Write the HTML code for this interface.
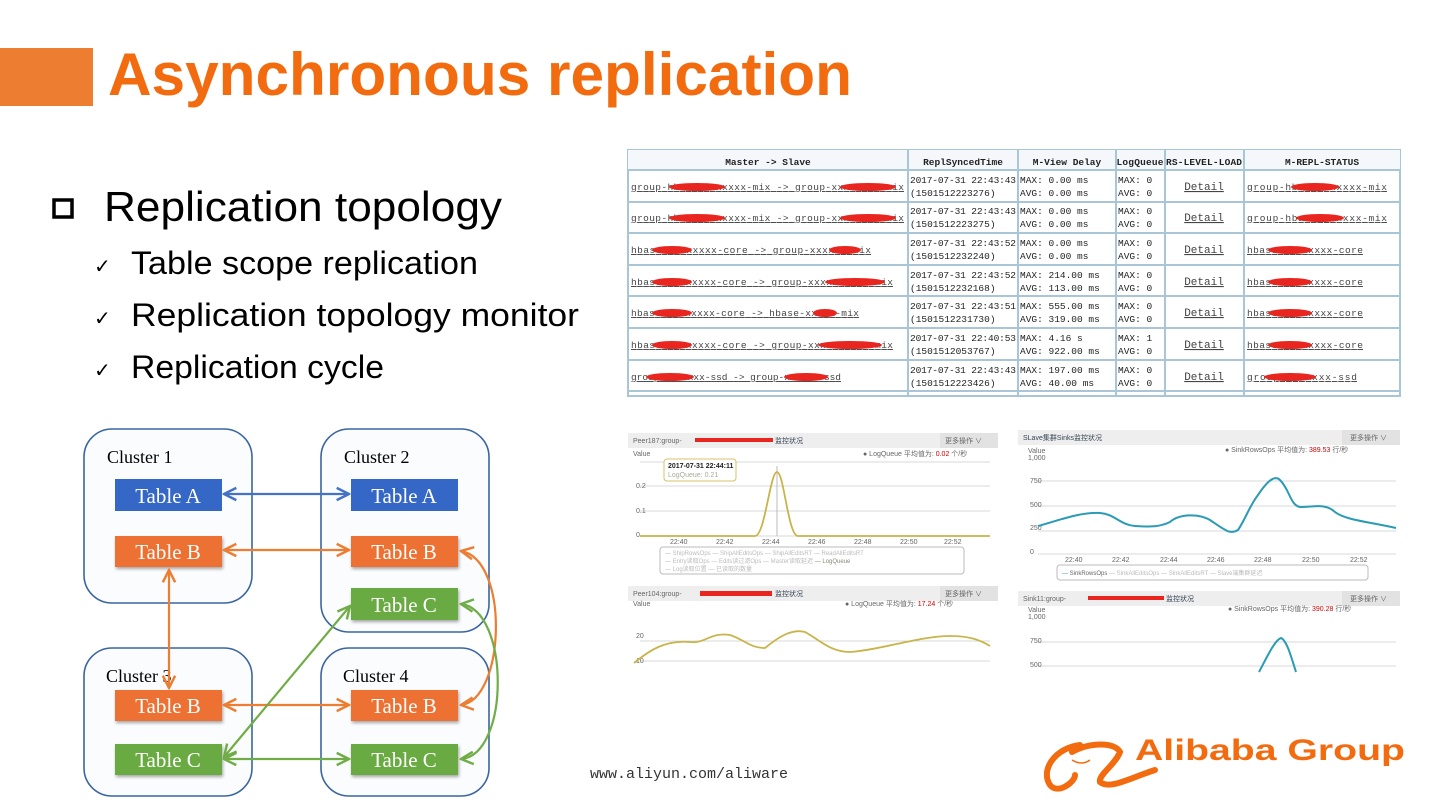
<!DOCTYPE html>
<html><head><meta charset="utf-8"><style>
html,body{margin:0;padding:0;background:#fff;width:1440px;height:810px;overflow:hidden}
svg{display:block}
</style></head><body>
<svg width="1440" height="810" viewBox="0 0 1440 810" xmlns="http://www.w3.org/2000/svg" font-family="Liberation Sans, sans-serif">
<defs>
<marker id="ab" viewBox="0 0 10 10" refX="9" refY="5" markerWidth="7" markerHeight="7" orient="auto-start-reverse"><path d="M1 1 L9 5 L1 9" fill="none" stroke="#4472c4" stroke-width="1.6"/></marker>
<marker id="ao" viewBox="0 0 10 10" refX="9" refY="5" markerWidth="7" markerHeight="7" orient="auto-start-reverse"><path d="M1 1 L9 5 L1 9" fill="none" stroke="#ed7d31" stroke-width="1.6"/></marker>
<marker id="ag" viewBox="0 0 10 10" refX="9" refY="5" markerWidth="7" markerHeight="7" orient="auto-start-reverse"><path d="M1 1 L9 5 L1 9" fill="none" stroke="#70ad47" stroke-width="1.6"/></marker>
<filter id="sh" x="-10%" y="-20%" width="130%" height="160%"><feDropShadow dx="1" dy="2" stdDeviation="1.5" flood-color="#000" flood-opacity="0.35"/></filter>
</defs>
<!-- title -->
<rect x="0" y="48" width="93" height="58" fill="#ed7d31"/>
<text x="108" y="95" font-size="60" font-weight="bold" fill="#f26b0f" textLength="744" lengthAdjust="spacingAndGlyphs">Asynchronous replication</text>
<!-- bullets -->
<rect x="54" y="200" width="18" height="17" fill="none" stroke="#000" stroke-width="3.5"/>
<text x="104" y="221" font-size="42" fill="#000" textLength="398" lengthAdjust="spacingAndGlyphs">Replication topology</text>
<g font-size="32" fill="#000">
<text x="94" y="273" font-size="20">✓</text><text x="131" y="274" textLength="347" lengthAdjust="spacingAndGlyphs">Table scope replication</text>
<text x="94" y="325" font-size="20">✓</text><text x="131" y="326" textLength="448" lengthAdjust="spacingAndGlyphs">Replication topology monitor</text>
<text x="94" y="377" font-size="20">✓</text><text x="131" y="378" textLength="253" lengthAdjust="spacingAndGlyphs">Replication cycle</text>
</g>
<!-- diagram clusters -->
<g fill="#fbfcfe" stroke="#3a65a0" stroke-width="1.6">
<rect x="84" y="429" width="168" height="174" rx="28"/>
<rect x="321" y="429" width="168" height="203" rx="28"/>
<rect x="84" y="648" width="168" height="148" rx="28"/>
<rect x="321" y="648" width="168" height="148" rx="28"/>
</g>
<g font-family="Liberation Serif, serif" font-size="18" fill="#000">
<text x="107" y="463">Cluster 1</text><text x="344" y="463">Cluster 2</text>
<text x="106" y="682">Cluster 3</text><text x="343" y="682">Cluster 4</text>
</g>
<g font-family="Liberation Serif, serif" font-size="21" fill="#fff" text-anchor="middle">
<rect x="115" y="479" width="107" height="32" fill="#3567c6"/><text x="168" y="503">Table A</text>
<rect x="351" y="479" width="107" height="32" fill="#3567c6"/><text x="404" y="503">Table A</text>
<rect x="115" y="536" width="107" height="31" fill="#ed7130" filter="url(#sh)"/><text x="168" y="559">Table B</text>
<rect x="351" y="536" width="107" height="31" fill="#ed7130" filter="url(#sh)"/><text x="404" y="559">Table B</text>
<rect x="351" y="588" width="107" height="32" fill="#6aaa42" filter="url(#sh)"/><text x="404" y="612">Table C</text>
<rect x="115" y="690" width="107" height="31" fill="#ed7130" filter="url(#sh)"/><text x="168" y="713">Table B</text>
<rect x="351" y="690" width="107" height="31" fill="#ed7130" filter="url(#sh)"/><text x="404" y="713">Table B</text>
<rect x="115" y="744" width="107" height="31" fill="#6aaa42" filter="url(#sh)"/><text x="168" y="767">Table C</text>
<rect x="351" y="744" width="107" height="31" fill="#6aaa42" filter="url(#sh)"/><text x="404" y="767">Table C</text>
</g>
<g fill="none" stroke-width="2.2">
<line x1="224" y1="494" x2="349" y2="494" stroke="#4472c4" marker-start="url(#ab)" marker-end="url(#ab)"/>
<line x1="224" y1="550" x2="349" y2="550" stroke="#ed7d31" marker-start="url(#ao)" marker-end="url(#ao)"/>
<line x1="169" y1="570" x2="169" y2="688" stroke="#ed7d31" marker-start="url(#ao)" marker-end="url(#ao)"/>
<line x1="224" y1="705" x2="349" y2="705" stroke="#ed7d31" marker-start="url(#ao)" marker-end="url(#ao)"/>
<line x1="224" y1="759" x2="349" y2="759" stroke="#70ad47" marker-start="url(#ag)" marker-end="url(#ag)"/>
<line x1="224" y1="757" x2="350" y2="606" stroke="#70ad47" marker-start="url(#ag)" marker-end="url(#ag)"/>
<path d="M461 551 C510 560 505 700 461 705" stroke="#ed7d31" marker-start="url(#ao)" marker-end="url(#ao)"/>
<path d="M461 604 C510 610 510 755 461 759" stroke="#70ad47" marker-start="url(#ag)" marker-end="url(#ag)"/>
</g>
<!-- table screenshot -->
<g font-family="Liberation Mono, monospace" font-size="9.5" fill="#222">
<rect x="628" y="150" width="772" height="246" fill="#fff" stroke="#a9c6d6" stroke-width="2"/>
<rect x="628" y="150" width="772" height="20" fill="#f4f8fa"/>
<g stroke="#a9c6d6" stroke-width="2">
<line x1="628" y1="170" x2="1400" y2="170"/><line x1="628" y1="202" x2="1400" y2="202"/><line x1="628" y1="233" x2="1400" y2="233"/><line x1="628" y1="265" x2="1400" y2="265"/><line x1="628" y1="296" x2="1400" y2="296"/><line x1="628" y1="328" x2="1400" y2="328"/><line x1="628" y1="360" x2="1400" y2="360"/><line x1="628" y1="391" x2="1400" y2="391"/>
<line x1="908" y1="150" x2="908" y2="396"/><line x1="1018" y1="150" x2="1018" y2="396"/><line x1="1116" y1="150" x2="1116" y2="396"/><line x1="1165" y1="150" x2="1165" y2="396"/><line x1="1244" y1="150" x2="1244" y2="396"/>
</g>
<g font-weight="bold" text-anchor="middle"><text x="768" y="165">Master -&gt; Slave</text><text x="963" y="165">ReplSyncedTime</text><text x="1067" y="165">M-View Delay</text><text x="1140" y="165" textLength="47">LogQueue</text><text x="1204" y="165" textLength="76">RS-LEVEL-LOAD</text><text x="1322" y="165">M-REPL-STATUS</text></g>
<g fill="#444" text-decoration="underline">
<text x="631" y="190" textLength="273">group-hbase-xxxxxxx-mix -&gt; group-xxxxxxxx-mix</text>
<text x="631" y="221" textLength="273">group-hbase-xxxxxxx-mix -&gt; group-xxxxxxxx-mix</text>
<text x="631" y="253" textLength="240">hbase-xxxxxxxx-core -&gt; group-xxxxxx-mix</text>
<text x="631" y="285" textLength="262">hbase-xxxxxxxx-core -&gt; group-xxxxxxxxxx-mix</text>
<text x="631" y="316" textLength="228">hbase-xxxxxxxx-core -&gt; hbase-xxxxx-mix</text>
<text x="631" y="348" textLength="262">hbase-xxxxxxxx-core -&gt; group-xxxxxxxxxx-mix</text>
<text x="631" y="380" textLength="210">group-xxxxxxx-ssd -&gt; group-xxxxxx-ssd</text>
<text x="1247" y="190" textLength="140">group-hbase-xxxxxx-mix</text>
<text x="1247" y="221" textLength="140">group-hbase-xxxxxx-mix</text>
<text x="1247" y="253" textLength="116">hbase-xxxxxxxx-core</text>
<text x="1247" y="285" textLength="116">hbase-xxxxxxxx-core</text>
<text x="1247" y="316" textLength="116">hbase-xxxxxxxx-core</text>
<text x="1247" y="348" textLength="116">hbase-xxxxxxxx-core</text>
<text x="1247" y="380" textLength="110">group-xxxxxxx-ssd</text>
</g>
<g fill="#e8251e">
<ellipse cx="697" cy="187" rx="28" ry="4"/><ellipse cx="868" cy="187" rx="28" ry="4"/>
<ellipse cx="697" cy="218" rx="28" ry="4"/><ellipse cx="868" cy="218" rx="28" ry="4"/>
<ellipse cx="672" cy="250" rx="20" ry="4"/><ellipse cx="845" cy="250" rx="16" ry="4"/>
<ellipse cx="672" cy="282" rx="20" ry="4"/><ellipse cx="855" cy="282" rx="30" ry="4"/>
<ellipse cx="672" cy="313" rx="20" ry="4"/><ellipse cx="825" cy="313" rx="12" ry="4"/>
<ellipse cx="672" cy="345" rx="20" ry="4"/><ellipse cx="850" cy="345" rx="32" ry="4"/>
<ellipse cx="670" cy="377" rx="24" ry="4"/><ellipse cx="806" cy="377" rx="22" ry="4"/>
<ellipse cx="1315" cy="187" rx="24" ry="4"/><ellipse cx="1320" cy="218" rx="24" ry="4"/>
<ellipse cx="1290" cy="250" rx="22" ry="4"/><ellipse cx="1290" cy="282" rx="22" ry="4"/>
<ellipse cx="1290" cy="313" rx="22" ry="4"/><ellipse cx="1290" cy="345" rx="22" ry="4"/><ellipse cx="1290" cy="377" rx="26" ry="4"/>
</g>
<g>
<text x="910" y="183" textLength="106">2017-07-31 22:43:43</text><text x="910" y="196">(1501512223276)</text>
<text x="910" y="214" textLength="106">2017-07-31 22:43:43</text><text x="910" y="227">(1501512223275)</text>
<text x="910" y="246" textLength="106">2017-07-31 22:43:52</text><text x="910" y="259">(1501512232240)</text>
<text x="910" y="278" textLength="106">2017-07-31 22:43:52</text><text x="910" y="291">(1501512232168)</text>
<text x="910" y="309" textLength="106">2017-07-31 22:43:51</text><text x="910" y="322">(1501512231730)</text>
<text x="910" y="341" textLength="106">2017-07-31 22:40:53</text><text x="910" y="354">(1501512053767)</text>
<text x="910" y="373" textLength="106">2017-07-31 22:43:43</text><text x="910" y="386">(1501512223426)</text>
<text x="1020" y="183">MAX: 0.00 ms</text><text x="1020" y="196">AVG: 0.00 ms</text>
<text x="1020" y="214">MAX: 0.00 ms</text><text x="1020" y="227">AVG: 0.00 ms</text>
<text x="1020" y="246">MAX: 0.00 ms</text><text x="1020" y="259">AVG: 0.00 ms</text>
<text x="1020" y="278">MAX: 214.00 ms</text><text x="1020" y="291">AVG: 113.00 ms</text>
<text x="1020" y="309">MAX: 555.00 ms</text><text x="1020" y="322">AVG: 319.00 ms</text>
<text x="1020" y="341">MAX: 4.16 s</text><text x="1020" y="354">AVG: 922.00 ms</text>
<text x="1020" y="373">MAX: 197.00 ms</text><text x="1020" y="386">AVG: 40.00 ms</text>
<text x="1118" y="183">MAX: 0</text><text x="1118" y="196">AVG: 0</text>
<text x="1118" y="214">MAX: 0</text><text x="1118" y="227">AVG: 0</text>
<text x="1118" y="246">MAX: 0</text><text x="1118" y="259">AVG: 0</text>
<text x="1118" y="278">MAX: 0</text><text x="1118" y="291">AVG: 0</text>
<text x="1118" y="309">MAX: 0</text><text x="1118" y="322">AVG: 0</text>
<text x="1118" y="341">MAX: 1</text><text x="1118" y="354">AVG: 0</text>
<text x="1118" y="373">MAX: 0</text><text x="1118" y="386">AVG: 0</text>
</g>
<g fill="#444" text-decoration="underline" font-size="11" text-anchor="middle">
<text x="1204" y="190">Detail</text><text x="1204" y="221">Detail</text><text x="1204" y="253">Detail</text><text x="1204" y="285">Detail</text><text x="1204" y="316">Detail</text><text x="1204" y="348">Detail</text><text x="1204" y="380">Detail</text>
</g>
</g>
<!-- chart panels -->
<g font-size="7" fill="#666">
<!-- left top -->
<rect x="628" y="433" width="370" height="15" fill="#eeeeee"/><rect x="940" y="433" width="58" height="15" fill="#e2e2e2"/>
<text x="633" y="443">Peer187:group-</text><rect x="695" y="438" width="78" height="4" fill="#e8251e"/><text x="775" y="443" fill="#345">监控状况</text><text x="945" y="443">更多操作 ∨</text>
<text x="633" y="456">Value</text><text x="863" y="456">● LogQueue 平均值为: <tspan fill="#c00">0.02</tspan> 个/秒</text>
<g stroke="#ccc" stroke-width="0.8"><line x1="640" y1="462" x2="990" y2="462"/><line x1="640" y1="486" x2="990" y2="486"/><line x1="640" y1="511" x2="990" y2="511"/><line x1="640" y1="536" x2="990" y2="536"/></g>
<text x="636" y="488">0.2</text><text x="636" y="513">0.1</text><text x="636" y="537">0</text>
<text x="670" y="544">22:40</text><text x="716" y="544">22:42</text><text x="762" y="544">22:44</text><text x="808" y="544">22:46</text><text x="854" y="544">22:48</text><text x="900" y="544">22:50</text><text x="944" y="544">22:52</text>
<line x1="777" y1="466" x2="777" y2="536" stroke="#aaa" stroke-width="0.8"/>
<path d="M755 536 C765 536 770 472 777 472 C784 472 788 536 798 536 L990 536 M640 536 L755 536" fill="none" stroke="#c8b44a" stroke-width="1.8"/>
<rect x="664" y="459" width="72" height="22" rx="3" fill="#fff" stroke="#d8c06a"/><text x="668" y="468" fill="#222" font-weight="bold">2017-07-31 22:44:11</text><text x="668" y="477" fill="#aa9">LogQueue: 0.21</text>
<rect x="660" y="547" width="304" height="27" rx="3" fill="#fff" stroke="#bbb"/>
<text x="665" y="555" fill="#bbb" font-size="6">— ShipRowsOps — ShipAllEditsOps — ShipAllEditsRT — ReadAllEditsRT</text>
<text x="665" y="563" fill="#bbb" font-size="6">— Entry读取Ops — Edits读过滤Ops — Master读取延迟 <tspan fill="#887">— LogQueue</tspan></text>
<text x="665" y="571" fill="#bbb" font-size="6">— Log读取位置 — 已读取的数量</text>
<!-- left bottom -->
<rect x="628" y="586" width="370" height="15" fill="#eeeeee"/><rect x="940" y="586" width="58" height="15" fill="#e2e2e2"/>
<text x="633" y="596">Peer104:group-</text><rect x="700" y="591" width="72" height="5" fill="#e8251e"/><text x="775" y="596" fill="#345">监控状况</text><text x="945" y="596">更多操作 ∨</text>
<text x="633" y="606">Value</text><text x="845" y="606">● LogQueue 平均值为: <tspan fill="#c00">17.24</tspan> 个/秒</text>
<g stroke="#ccc" stroke-width="0.8"><line x1="640" y1="641" x2="990" y2="641"/><line x1="640" y1="661" x2="990" y2="661"/></g>
<text x="636" y="638">20</text><text x="636" y="663">10</text>
<path d="M634 663 C650 650 665 640 690 642 C705 644 710 632 730 635 C745 640 750 648 765 648 C775 640 790 628 805 632 C820 640 830 652 850 652 C880 650 920 636 950 636 C970 636 980 640 990 646" fill="none" stroke="#c8b44a" stroke-width="1.8"/>
<!-- right top -->
<rect x="1018" y="430" width="382" height="15" fill="#eeeeee"/><rect x="1342" y="430" width="58" height="15" fill="#e2e2e2"/>
<text x="1023" y="440" fill="#345">SLave集群Sinks监控状况</text><text x="1350" y="440">更多操作 ∨</text>
<text x="1028" y="453">Value</text><text x="1028" y="460">1,000</text>
<text x="1225" y="452">● SinkRowsOps 平均值为: <tspan fill="#c00">389.53</tspan> 行/秒</text>
<g stroke="#ccc" stroke-width="0.8"><line x1="1038" y1="481" x2="1396" y2="481"/><line x1="1038" y1="506" x2="1396" y2="506"/><line x1="1038" y1="531" x2="1396" y2="531"/><line x1="1038" y1="554" x2="1396" y2="554"/></g>
<text x="1030" y="483">750</text><text x="1030" y="507">500</text><text x="1030" y="530">250</text><text x="1030" y="554">0</text>
<text x="1065" y="562">22:40</text><text x="1112" y="562">22:42</text><text x="1160" y="562">22:44</text><text x="1207" y="562">22:46</text><text x="1254" y="562">22:48</text><text x="1302" y="562">22:50</text><text x="1350" y="562">22:52</text>
<path d="M1038 526 C1060 520 1080 512 1100 513 C1115 514 1120 525 1135 526 C1150 527 1160 527 1170 522 C1180 513 1200 514 1210 520 C1225 530 1230 535 1238 530 C1245 520 1250 505 1258 495 C1268 480 1275 475 1280 480 C1290 490 1290 505 1300 507 C1315 507 1325 503 1335 512 C1345 520 1370 522 1396 528" fill="none" stroke="#2a9bb5" stroke-width="2"/>
<rect x="1057" y="565" width="311" height="15" rx="3" fill="#fff" stroke="#bbb"/>
<text x="1062" y="575" font-size="6"><tspan fill="#2a9bb5">—</tspan> SinkRowsOps <tspan fill="#bbb">— SinkAllEditsOps — SinkAllEditsRT — Slave端集群延迟</tspan></text>
<!-- right bottom -->
<rect x="1018" y="591" width="382" height="15" fill="#eeeeee"/><rect x="1342" y="591" width="58" height="15" fill="#e2e2e2"/>
<text x="1023" y="601">Sink11:group-</text><rect x="1088" y="596" width="76" height="4" fill="#e8251e"/><text x="1166" y="601" fill="#345">监控状况</text><text x="1350" y="601">更多操作 ∨</text>
<text x="1028" y="612">Value</text><text x="1028" y="619">1,000</text>
<text x="1228" y="611">● SinkRowsOps 平均值为: <tspan fill="#c00">390.28</tspan> 行/秒</text>
<g stroke="#ccc" stroke-width="0.8"><line x1="1038" y1="642" x2="1396" y2="642"/><line x1="1038" y1="666" x2="1396" y2="666"/></g>
<text x="1030" y="643">750</text><text x="1030" y="667">500</text>
<path d="M1259 672 C1268 655 1275 640 1281 638 C1287 640 1292 660 1296 672" fill="none" stroke="#2a9bb5" stroke-width="2"/>
</g>
<!-- footer -->
<text x="590" y="778" font-family="Liberation Mono, monospace" font-size="15" fill="#333">www.aliyun.com/aliware</text>
<!-- logo -->
<path d="M1080 745 C1055 748 1040 770 1050 785 C1058 795 1075 782 1075 775 M1072 752 C1090 742 1115 742 1120 752 C1115 765 1098 775 1100 782 C1110 790 1130 778 1155 770" fill="none" stroke="#f26b0f" stroke-width="6" stroke-linecap="round"/>
<path d="M1072 760 Q1082 766 1090 760" fill="none" stroke="#f26b0f" stroke-width="1.5"/>
<text x="1135" y="760" font-size="30" font-weight="bold" fill="#f26b0f" textLength="270" lengthAdjust="spacingAndGlyphs">Alibaba Group</text>
</svg>
</body></html>
